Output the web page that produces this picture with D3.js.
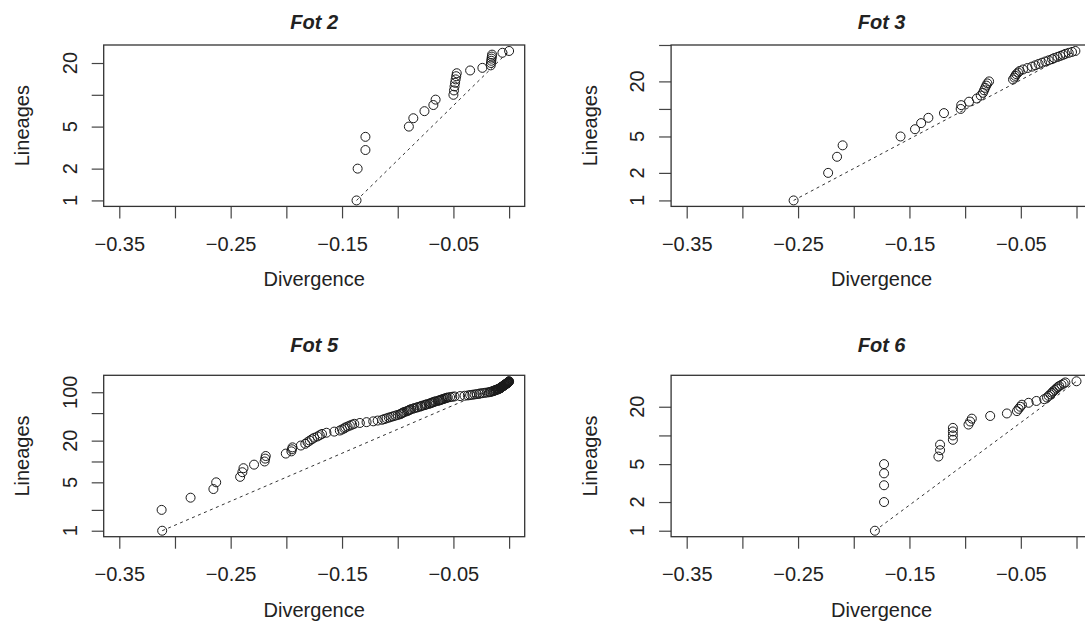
<!DOCTYPE html>
<html>
<head>
<meta charset="utf-8">
<script src="https://cdn.jsdelivr.net/npm/d3@7"></script>
<style>
  html, body { margin: 0; padding: 0; background: #fff; }
  svg { display: block; }
  text { font-family: "Liberation Sans", Arial, Helvetica, sans-serif; fill: #222; }
</style>
</head>
<body>
<svg id="chart" width="1085" height="622"></svg>
<script>
// Branching times (divergence) at which each lineage count 1..N is reached
const fot2Times = [-0.137, -0.136, -0.129, -0.129, -0.090, -0.086, -0.076, -0.068, -0.066,
  -0.050, -0.0495, -0.049, -0.0485, -0.048, -0.0475, -0.047, -0.035, -0.024,
  -0.0165, -0.0163, -0.016, -0.0158, -0.0155, -0.0153, -0.006, 0.0];

const fot3Times = [-0.254, -0.223, -0.215, -0.210, -0.158, -0.145, -0.1395, -0.133, -0.119,
  -0.104, -0.1035, -0.0965, -0.0895, -0.086, -0.084, -0.083, -0.082, -0.081, -0.080, -0.0785,
  -0.057, -0.0558, -0.055, -0.054, -0.0525, -0.051, -0.048, -0.044, -0.040, -0.037, -0.034,
  -0.031, -0.028, -0.025, -0.022, -0.020, -0.017, -0.0145, -0.012, -0.010, -0.007, -0.004, -0.001];

const fot5Times = [-0.3115, -0.312, -0.286, -0.2655, -0.263, -0.2415, -0.2395, -0.2385, -0.229,
  -0.2195, -0.219, -0.2185, -0.2005, -0.1955, -0.195, -0.1945, -0.187, -0.183, -0.181, -0.179,
  -0.177, -0.175, -0.172, -0.170, -0.168, -0.164, -0.157, -0.152, -0.150, -0.148, -0.147,
  -0.145, -0.143, -0.141, -0.139, -0.134, -0.128, -0.122, -0.118, -0.114, -0.112, -0.110,
  -0.108, -0.106, -0.104, -0.102, -0.100, -0.098, -0.097, -0.096, -0.095, -0.094, -0.092,
  -0.091, -0.090, -0.089, -0.088, -0.086, -0.085, -0.083, -0.082, -0.080, -0.079, -0.078,
  -0.076, -0.075, -0.074, -0.072, -0.071, -0.070, -0.069, -0.068, -0.067, -0.066, -0.064,
  -0.063, -0.062, -0.061, -0.060, -0.059, -0.058, -0.057, -0.056, -0.055, -0.053, -0.051,
  -0.049, -0.044, -0.040, -0.037, -0.035, -0.033, -0.031, -0.029, -0.027, -0.026, -0.024,
  -0.022, -0.020, -0.018, -0.017, -0.016, -0.015, -0.014, -0.014, -0.013, -0.012, -0.012,
  -0.011, -0.010, -0.010, -0.009, -0.009, -0.008, -0.0078, -0.0075, -0.0072, -0.0069,
  -0.0066, -0.0063, -0.0060, -0.0057, -0.0054, -0.0051, -0.0048, -0.0045, -0.0042, -0.0039,
  -0.0036, -0.0033, -0.0030, -0.0027, -0.0024, -0.0021, -0.0018, -0.0016, -0.0014, -0.0012,
  -0.0010, -0.0008, -0.0006, -0.0004, -0.0002, 0.0];

const fot6Times = [-0.181, -0.1728, -0.1728, -0.1728, -0.1728, -0.124, -0.1225, -0.1225,
  -0.111, -0.111, -0.111, -0.111, -0.097, -0.0955, -0.094, -0.0775, -0.0625, -0.0535,
  -0.052, -0.0505, -0.049, -0.043, -0.036, -0.029, -0.0265, -0.025, -0.0235, -0.022,
  -0.021, -0.0195, -0.018, -0.017, -0.0155, -0.0135, -0.0115, -0.0100, 0.0];

const panelTitles = ["Fot 2", "Fot 3", "Fot 5", "Fot 6"];

// Axis ticks
const xTickValues = [-0.35, -0.30, -0.25, -0.20, -0.15, -0.10, -0.05, 0];
const xTickLabels = ["\u22120.35", "", "\u22120.25", "", "\u22120.15", "", "\u22120.05", ""];
const xLimits = [-0.35, 0];

const yTicksFot2 = [1, 2, 5, 10, 20];
const yLabelsFot2 = ["1", "2", "5", "", "20"];
const yTicksFot3 = [1, 2, 5, 10, 20, 50];
const yLabelsFot3 = ["1", "2", "5", "", "20", ""];
const yTicksFot5 = [1, 2, 5, 10, 20, 50, 100];
const yLabelsFot5 = ["1", "", "5", "", "20", "", "100"];
const yTicksFot6 = [1, 2, 5, 10, 20];
const yLabelsFot6 = ["1", "2", "5", "", "20"];

const xTitle = "Divergence";
const yTitle = "Lineages";

// ---- layout ----
const colLeft = [103.7, 671.1];
const rowTop = [45, 375.3];
const titleBaseline = [29.3, 351.7];
const boxW = 421;
const boxH = 161.4;
const ink = "#222";

const panels = [
  { title: panelTitles[0], times: fot2Times, yTicks: yTicksFot2, yLabels: yLabelsFot2, col: 0, row: 0 },
  { title: panelTitles[1], times: fot3Times, yTicks: yTicksFot3, yLabels: yLabelsFot3, col: 1, row: 0 },
  { title: panelTitles[2], times: fot5Times, yTicks: yTicksFot5, yLabels: yLabelsFot5, col: 0, row: 1 },
  { title: panelTitles[3], times: fot6Times, yTicks: yTicksFot6, yLabels: yLabelsFot6, col: 1, row: 1 }
];

const svg = d3.select("#chart");

// R-style 4% padding of a range
function pad(lo, hi) {
  const d = (hi - lo) * 0.04;
  return [lo - d, hi + d];
}

panels.forEach(p => {
  const left = colLeft[p.col], top = rowTop[p.row];
  const right = left + boxW, bottom = top + boxH;
  const g = svg.append("g");

  const x = d3.scaleLinear().domain(pad(xLimits[0], xLimits[1])).range([left, right]);
  const n = p.times.length;
  const ly = pad(0, Math.log10(n));
  const y = d3.scaleLog().domain([Math.pow(10, ly[0]), Math.pow(10, ly[1])]).range([bottom, top]);

  const pts = p.times.map((t, i) => ({ t: t, n: i + 1 }));

  // x axis (ticks below the frame)
  const xAxis = d3.axisBottom(x)
    .tickValues(xTickValues)
    .tickSize(12)
    .tickPadding(18)
    .tickFormat((d, i) => xTickLabels[i]);
  const gx = g.append("g").attr("transform", `translate(0,${bottom})`).call(xAxis);
  gx.select(".domain").remove();
  gx.selectAll(".tick line").attr("stroke", "#444").attr("stroke-width", 1.2);
  gx.selectAll(".tick text")
    .attr("fill", ink)
    .style("font-size", "20px")
    .style("font-family", '"Liberation Sans", Arial, sans-serif');

  // y axis (log), labels parallel to the axis
  const yAxis = d3.axisLeft(y)
    .tickValues(p.yTicks)
    .tickSize(12)
    .tickFormat("");
  const gy = g.append("g").attr("transform", `translate(${left},0)`).call(yAxis);
  gy.select(".domain").remove();
  gy.selectAll(".tick line").attr("stroke", "#444").attr("stroke-width", 1.2);
  g.selectAll(".ylab")
    .data(p.yTicks.map((v, i) => ({ v: v, label: p.yLabels[i] })).filter(d => d.label !== ""))
    .enter().append("text")
    .attr("class", "ylab")
    .attr("transform", d => `translate(${left - 27},${y(d.v)}) rotate(-90)`)
    .attr("text-anchor", "middle")
    .style("font-size", "20px")
    .text(d => d.label);

  // pure-birth reference line from first to last point
  const first = pts[0], last = pts[n - 1];
  g.append("line")
    .attr("x1", x(first.t)).attr("y1", y(first.n))
    .attr("x2", x(last.t)).attr("y2", y(last.n))
    .attr("stroke", "#333")
    .attr("stroke-width", 1)
    .attr("stroke-dasharray", "3,3.5");

  // lineage-through-time points
  g.selectAll("circle.pt")
    .data(pts)
    .enter().append("circle")
    .attr("class", "pt")
    .attr("cx", d => x(d.t))
    .attr("cy", d => y(d.n))
    .attr("r", 4.5)
    .attr("fill", "none")
    .attr("stroke", "#1a1a1a")
    .attr("stroke-width", 1);

  // frame
  g.append("rect")
    .attr("x", left).attr("y", top)
    .attr("width", boxW).attr("height", boxH)
    .attr("fill", "none")
    .attr("stroke", "#333")
    .attr("stroke-width", 1.3);

  // titles
  const cx = left + boxW / 2;
  g.append("text")
    .attr("x", cx).attr("y", titleBaseline[p.row])
    .attr("text-anchor", "middle")
    .style("font-size", "20px")
    .style("font-weight", "bold")
    .style("font-style", "italic")
    .text(p.title);

  g.append("text")
    .attr("x", cx).attr("y", bottom + 80)
    .attr("text-anchor", "middle")
    .style("font-size", "20px")
    .text(xTitle);

  g.append("text")
    .attr("transform", `translate(${left - 74.5},${top + boxH / 2}) rotate(-90)`)
    .attr("text-anchor", "middle")
    .style("font-size", "20px")
    .text(yTitle);
});
</script>
</body>
</html>
